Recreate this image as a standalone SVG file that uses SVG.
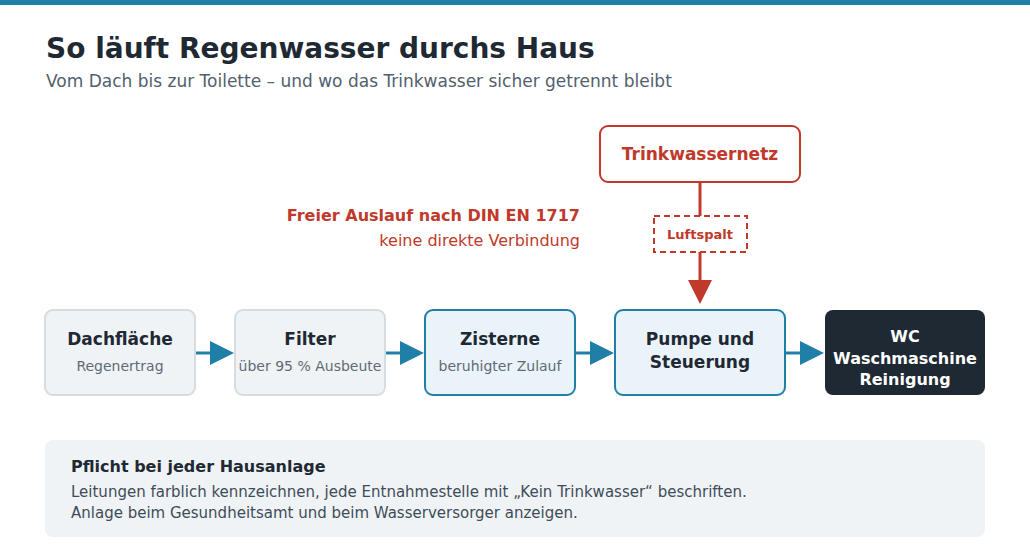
<svg xmlns="http://www.w3.org/2000/svg" width="1030" height="560" viewBox="0 0 1030 560">
<defs>
<style>
text{font-family:"DejaVu Sans","Liberation Sans",sans-serif}
.title{font-size:28px;font-weight:bold;fill:#1f2933}
.sub{font-size:17px;fill:#52606d}
.gray{fill:#f0f3f5;stroke:#d5dde3;stroke-width:2}
.blue{fill:#eaf3f9;stroke:#1f7fa6;stroke-width:2}
.dark{fill:#1f2933}
.nt{font-size:17px;font-weight:bold;fill:#1f2933;text-anchor:middle}
.ns{font-size:14px;fill:#5f6b76;text-anchor:middle}
.wt{font-size:16px;font-weight:bold;fill:#ffffff;text-anchor:middle}
.red{fill:#c0392b}
.flow{stroke:#1f7fa6;stroke-width:3;fill:none}
.rl{stroke:#c0392b;stroke-width:3;fill:none}
</style>
</defs>
<rect width="1030" height="560" fill="#ffffff"/>
<rect width="1030" height="5" fill="#1f7fa6"/>
<text class="title" x="46" y="58">So läuft Regenwasser durchs Haus</text>
<text class="sub" x="46" y="87">Vom Dach bis zur Toilette – und wo das Trinkwasser sicher getrennt bleibt</text>

<g id="connectors">
<line class="flow" x1="196" y1="353" x2="212" y2="353"/>
<path d="M210,341L234,353L210,365z" fill="#1f7fa6"/>
<line class="flow" x1="386" y1="353" x2="402" y2="353"/>
<path d="M400,341L424,353L400,365z" fill="#1f7fa6"/>
<line class="flow" x1="576" y1="353" x2="592" y2="353"/>
<path d="M590,341L614,353L590,365z" fill="#1f7fa6"/>
<line class="flow" x1="786" y1="353" x2="802" y2="353"/>
<path d="M800,341L824,353L800,365z" fill="#1f7fa6"/>
<line class="rl" x1="700" y1="182" x2="700" y2="216"/>
<line class="rl" x1="700" y1="252" x2="700" y2="282"/>
<path d="M688,280L712,280L700,304z" fill="#c0392b"/>
</g>

<g id="trinkwassernetz">
<rect x="600" y="126" width="200" height="56" rx="8" fill="#ffffff" stroke="#c0392b" stroke-width="2"/>
<text x="700" y="160" class="red" font-size="17" font-weight="bold" text-anchor="middle">Trinkwassernetz</text>
</g>
<g id="luftspalt">
<rect x="654" y="216" width="93" height="36" fill="#ffffff" stroke="#c0392b" stroke-width="2" stroke-dasharray="6,4"/>
<text x="700" y="239" class="red" font-size="13" font-weight="bold" text-anchor="middle">Luftspalt</text>
</g>
<g id="hinweis">
<text x="580" y="221" class="red" font-size="16" font-weight="bold" text-anchor="end">Freier Auslauf nach DIN EN 1717</text>
<text x="580" y="246" class="red" font-size="16" text-anchor="end">keine direkte Verbindung</text>
</g>

<g id="dachflaeche">
<rect class="gray" x="45" y="310" width="150" height="85" rx="8"/>
<text class="nt" x="120" y="345">Dachfläche</text>
<text class="ns" x="120" y="371">Regenertrag</text>
</g>
<g id="filter">
<rect class="gray" x="235" y="310" width="150" height="85" rx="8"/>
<text class="nt" x="310" y="345">Filter</text>
<text class="ns" x="310" y="371">über 95 % Ausbeute</text>
</g>
<g id="zisterne">
<rect class="blue" x="425" y="310" width="150" height="85" rx="8"/>
<text class="nt" x="500" y="345">Zisterne</text>
<text class="ns" x="500" y="371">beruhigter Zulauf</text>
</g>
<g id="pumpe">
<rect class="blue" x="615" y="310" width="170" height="85" rx="8"/>
<text class="nt" x="700" y="345">Pumpe und</text>
<text class="nt" x="700" y="368">Steuerung</text>
</g>
<g id="verbraucher">
<rect class="dark" x="825" y="310" width="160" height="85" rx="8"/>
<text class="wt" x="905" y="342">WC</text>
<text class="wt" x="905" y="364">Waschmaschine</text>
<text class="wt" x="905" y="385">Reinigung</text>
</g>

<g id="pflicht">
<rect x="45" y="440" width="940" height="97" rx="8" fill="#f0f3f5"/>
<text x="71" y="472" font-size="16" font-weight="bold" fill="#1f2933">Pflicht bei jeder Hausanlage</text>
<text x="71" y="497" font-size="15" fill="#3e4c59">Leitungen farblich kennzeichnen, jede Entnahmestelle mit „Kein Trinkwasser“ beschriften.</text>
<text x="71" y="518" font-size="15" fill="#3e4c59">Anlage beim Gesundheitsamt und beim Wasserversorger anzeigen.</text>
</g>
</svg>
